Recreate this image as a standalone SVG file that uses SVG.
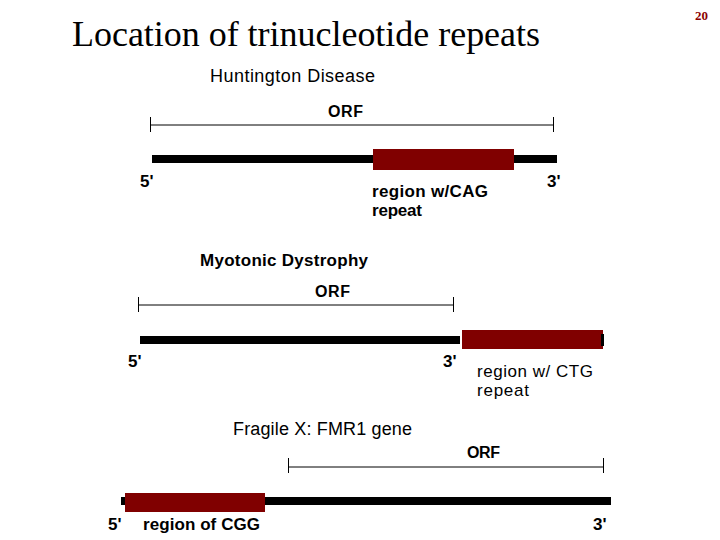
<svg xmlns="http://www.w3.org/2000/svg" width="720" height="540" viewBox="0 0 720 540">
<style>
.title{font-family:"Liberation Serif","Times New Roman",serif;font-size:36px;fill:#000}
.pg{font-family:"Liberation Serif","Times New Roman",serif;font-size:13px;font-weight:bold;fill:#8b0000}
.lbl{font-family:"Liberation Sans",Arial,sans-serif;font-size:18px;fill:#000}
.b{font-weight:bold;font-size:17px}
.orfl{font-size:16px}
.sm{font-size:17px}
.dna{fill:#000}
.rep{fill:#800000}
.orf{stroke:#000;stroke-width:1;fill:none}
</style>
<rect width="720" height="540" fill="#fff"/>
<text class="title" x="72" y="46" textLength="468">Location of trinucleotide repeats</text>
<text class="pg" x="695" y="20">20</text>

<g id="huntington">
<text class="lbl" x="210" y="82" textLength="165">Huntington Disease</text>
<text class="lbl b orfl" x="328" y="117" textLength="35">ORF</text>
<path class="orf" d="M150.5 117V132M553.5 117V132M150.5 125H553.5"/>
<rect class="dna" x="152" y="155" width="405" height="8"/>
<rect class="rep" x="373" y="149" width="141" height="21"/>
<text class="lbl b" x="140" y="187">5'</text>
<text class="lbl b" x="547" y="187">3'</text>
<text class="lbl b" x="372" y="197" textLength="116">region w/CAG</text>
<text class="lbl b" x="372" y="216" textLength="50">repeat</text>
</g>

<g id="myotonic">
<text class="lbl b" x="200" y="266" textLength="168">Myotonic Dystrophy</text>
<text class="lbl b orfl" x="315" y="297" textLength="35">ORF</text>
<path class="orf" d="M138.5 297V312M453.5 297V312M138.5 305H453.5"/>
<rect class="dna" x="140" y="336" width="320" height="8"/>
<rect class="rep" x="462" y="330" width="141" height="19"/>
<rect class="dna" x="601" y="334" width="3" height="12"/>
<text class="lbl b" x="128" y="367">5'</text>
<text class="lbl b" x="443" y="367">3'</text>
<text class="lbl sm" x="477" y="377" textLength="116">region w/ CTG</text>
<text class="lbl sm" x="477" y="396" textLength="52">repeat</text>
</g>

<g id="fragilex">
<text class="lbl" x="233" y="435" textLength="179">Fragile X: FMR1 gene</text>
<text class="lbl b orfl" x="467" y="458" textLength="33">ORF</text>
<path class="orf" d="M288.5 458V473M603.5 458V473M288.5 467H603.5"/>
<rect class="dna" x="121" y="497" width="490" height="8"/>
<rect class="rep" x="125" y="493" width="140" height="19"/>
<text class="lbl b" x="108" y="530">5'</text>
<text class="lbl b" x="143" y="530" textLength="117">region of CGG</text>
<text class="lbl b" x="593" y="530">3'</text>
</g>
</svg>
